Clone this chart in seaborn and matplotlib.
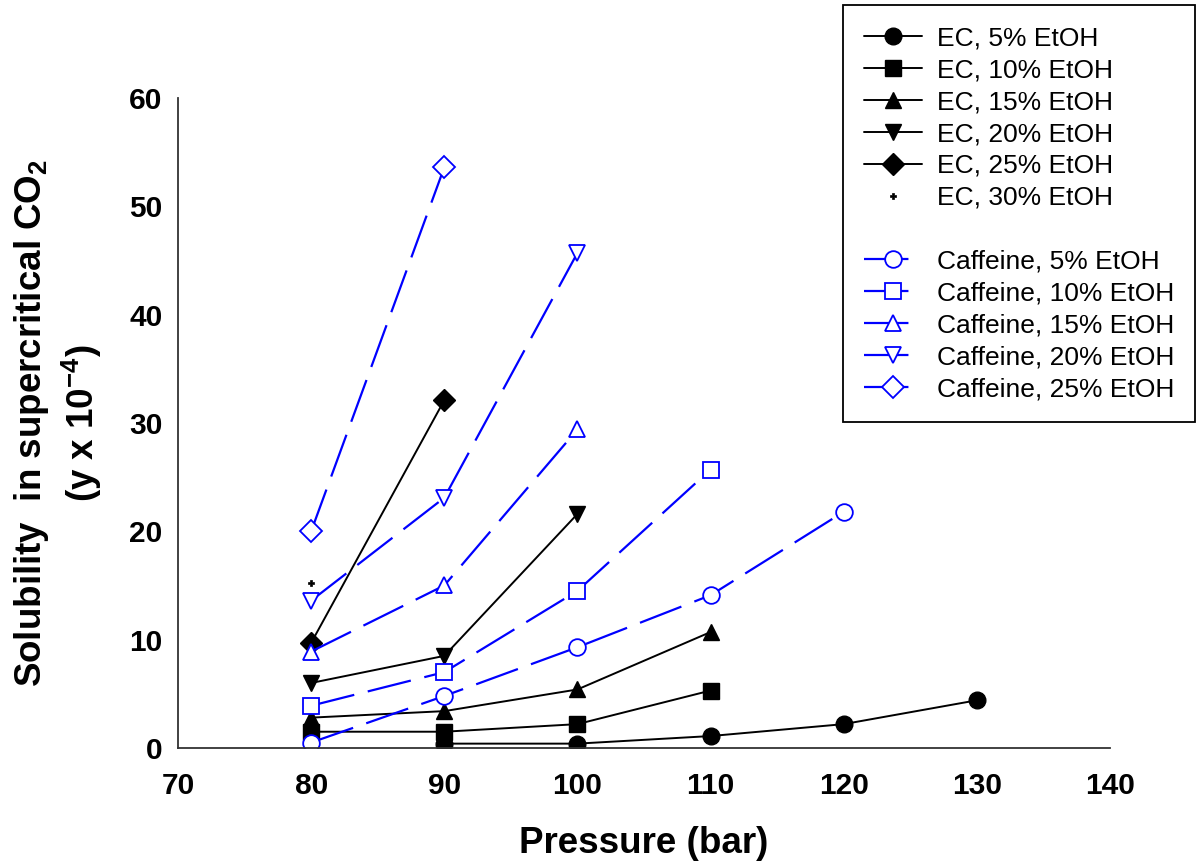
import matplotlib
matplotlib.use("Agg")
import matplotlib.pyplot as plt
import seaborn as sns
from matplotlib.lines import Line2D
from matplotlib.ticker import MultipleLocator

# ---- data ----
pressure_ec5 = [90, 100, 110, 120, 130]
ec5 = [0.4, 0.4, 1.1, 2.2, 4.4]
pressure_ec10 = [80, 90, 100, 110]
ec10 = [1.5, 1.5, 2.2, 5.3]
pressure_ec15 = [80, 90, 100, 110]
ec15 = [2.8, 3.4, 5.4, 10.7]
pressure_ec20 = [80, 90, 100]
ec20 = [6.0, 8.5, 21.6]
pressure_ec25 = [80, 90]
ec25 = [9.7, 32.1]
pressure_ec30 = [80]
ec30 = [15.2]

pressure_caf5 = [80, 90, 100, 110, 120]
caf5 = [0.5, 4.8, 9.3, 14.1, 21.8]
pressure_caf10 = [80, 90, 100, 110]
caf10 = [3.9, 7.0, 14.5, 25.7]
pressure_caf15 = [80, 90, 100]
caf15 = [8.9, 15.0, 29.4]
pressure_caf20 = [80, 90, 100]
caf20 = [13.6, 23.1, 45.7]
pressure_caf25 = [80, 90]
caf25 = [20.0, 53.6]

ec_labels = ["EC, 5% EtOH", "EC, 10% EtOH", "EC, 15% EtOH", "EC, 20% EtOH",
             "EC, 25% EtOH", "EC, 30% EtOH"]
caf_labels = ["Caffeine, 5% EtOH", "Caffeine, 10% EtOH", "Caffeine, 15% EtOH",
              "Caffeine, 20% EtOH", "Caffeine, 25% EtOH"]

# ---- style ----
sns.set_style("white")
plt.rcParams["font.family"] = ["Liberation Sans", "DejaVu Sans"]
plt.rcParams["mathtext.default"] = "regular"
plt.rcParams["lines.scale_dashes"] = False
for k in ["text.color", "axes.labelcolor", "xtick.labelcolor", "ytick.labelcolor"]:
    plt.rcParams[k] = "black"

fig = plt.figure(figsize=(11.98, 8.65), dpi=100)
ax = fig.add_axes([0.1486, 0.1353, 0.9265 - 0.1486, 0.8867 - 0.1353])

ec_sets = [(pressure_ec5, ec5, "o"), (pressure_ec10, ec10, "s"),
           (pressure_ec15, ec15, "^"), (pressure_ec20, ec20, "v"),
           (pressure_ec25, ec25, "D")]
handles = []
for (px, py, m), lab in zip(ec_sets, ec_labels[:5]):
    ms = 11 if m == "D" else 12
    sns.lineplot(x=px, y=py, ax=ax, color="black", marker=m, markersize=ms,
                 markerfacecolor="black", markeredgecolor="black",
                 markeredgewidth=1.0, linewidth=1.4, errorbar=None,
                 label=lab, legend=False)
    handles.append(ax.lines[-1])

sns.lineplot(x=pressure_ec30, y=ec30, ax=ax, color="black", marker="P",
             markersize=5, markerfacecolor="black", markeredgecolor="black",
             markeredgewidth=0.5, linewidth=0, errorbar=None,
             label=ec_labels[5], legend=False)
handles.append(ax.lines[-1])

blank = Line2D([], [], color="none", label=" ")
handles.append(blank)

caf_sets = [(pressure_caf5, caf5, "o"), (pressure_caf10, caf10, "s"),
            (pressure_caf15, caf15, "^"), (pressure_caf20, caf20, "v"),
            (pressure_caf25, caf25, "D")]
for (px, py, m), lab in zip(caf_sets, caf_labels):
    ms = 11 if m == "D" else 12
    sns.lineplot(x=px, y=py, ax=ax, color="#0000FF", marker=m, markersize=ms,
                 markerfacecolor="white", markeredgecolor="#0000FF",
                 markeredgewidth=1.3, linewidth=1.6, linestyle=(0, (32, 10)),
                 errorbar=None, label=lab, legend=False)
    handles.append(ax.lines[-1])

# ---- axes ----
ax.set_xlim(70, 140)
ax.set_ylim(0, 60)
ax.xaxis.set_major_locator(MultipleLocator(10))
ax.xaxis.set_minor_locator(MultipleLocator(5))
ax.yaxis.set_major_locator(MultipleLocator(10))
ax.yaxis.set_minor_locator(MultipleLocator(5))
ax.tick_params(axis="both", which="both", direction="in", length=7,
               width=1.0, color="#333333")
ax.tick_params(axis="both", which="major", labelsize=21.5)
ax.tick_params(axis="x", which="major", pad=17)
ax.tick_params(axis="y", which="major", pad=11)
for lab in ax.get_xticklabels() + ax.get_yticklabels():
    lab.set_fontweight("bold")
for s in ["top", "right"]:
    ax.spines[s].set_visible(False)
for s in ["left", "bottom"]:
    ax.spines[s].set_color("#333333")
    ax.spines[s].set_linewidth(1.3)

ax.set_xlabel("Pressure (bar)", fontsize=26.5, fontweight="bold", labelpad=19)
ax.set_ylabel("Solubility  in supercritical CO$_2$\n(y x 10$^{-4}$)",
              fontsize=26.5, fontweight="bold", labelpad=18, linespacing=1.28)

leg = fig.legend(handles=handles, labels=[h.get_label() for h in handles],
                 loc="upper right", bbox_to_anchor=(0.9975, 0.994),
                 fontsize=19, frameon=True, fancybox=False, framealpha=1,
                 edgecolor="black", handlelength=2.2, handletextpad=0.55,
                 labelspacing=0.30, borderpad=0.8, borderaxespad=0)
leg.get_frame().set_linewidth(1.3)

fig.savefig("out.png", dpi=100)
